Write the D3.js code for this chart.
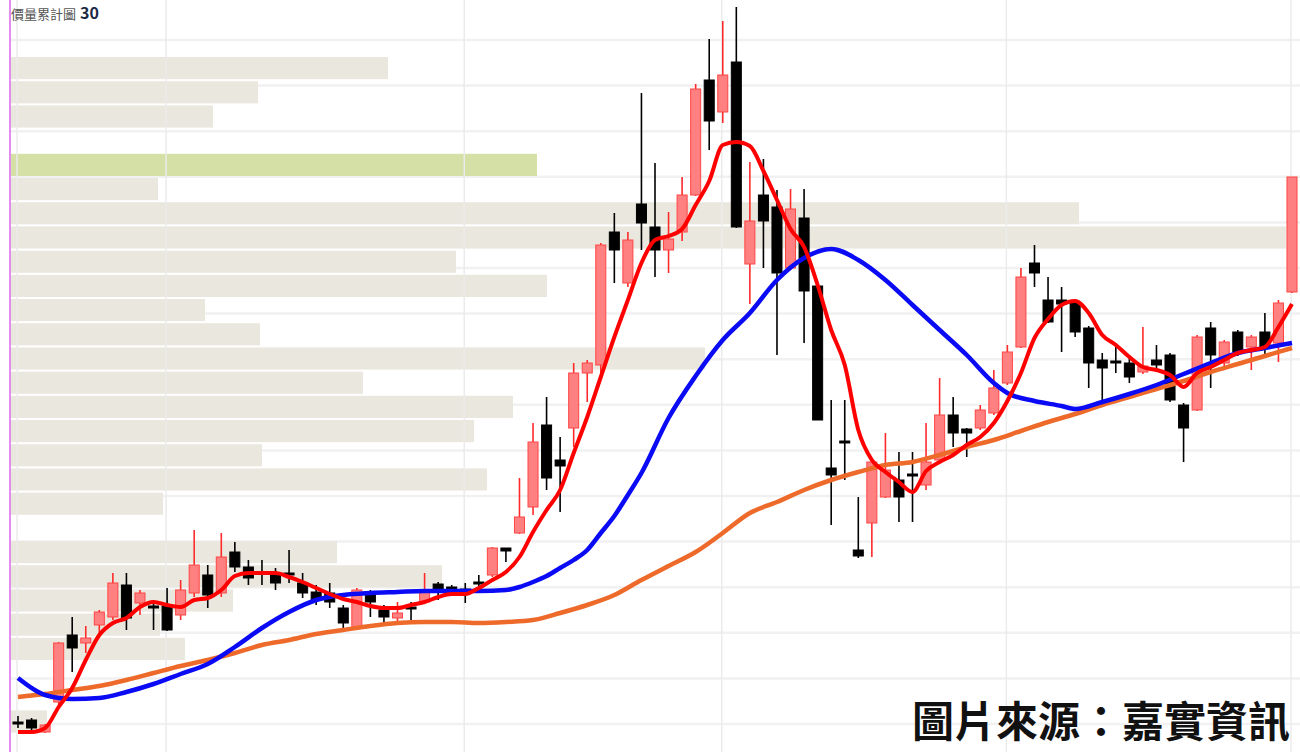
<!DOCTYPE html>
<html>
<head>
<meta charset="utf-8">
<script src="https://cdn.jsdelivr.net/npm/d3@7/dist/d3.min.js"></script>
<style>
    html, body { margin: 0; padding: 0; background: #fff; overflow: hidden; }
    svg { display: block; }
</style>
</head>
<body>
<svg id="vis-svg" width="1300" height="752"></svg>
<script>
// daily candles, price units
let opens  = [38,40,28,58,125,117,135,143,175,157,154,154,145,167,185,167,208,193,188,185,187,177,168,167,152,133,167,150,142,153,158,176,173,171,178,185,212,227,253,335,300,332,387,395,528,477,556,533,510,528,565,680,648,698,496,565,553,492,542,474,292,319,210,237,263,280,286,275,300,345,331,332,347,377,413,497,460,460,458,432,400,399,397,388,400,405,355,350,432,397,428,413,428,417,468];
let highs  = [44,42,36,118,143,134,150,187,187,170,160,172,180,230,195,227,218,200,200,192,210,187,175,177,155,172,170,155,158,158,187,178,175,177,185,213,212,282,337,363,323,397,400,517,547,528,667,597,548,583,676,721,739,753,598,601,570,571,571,474,360,360,263,300,327,308,308,337,382,363,332,355,390,415,492,515,483,473,460,434,407,417,405,433,415,407,357,425,438,420,430,425,447,460,583];
let lows   = [32,30,27,55,88,107,125,140,130,145,130,129,140,163,152,163,188,175,175,170,177,162,155,152,130,132,143,135,138,140,157,160,165,157,170,183,198,226,245,270,248,313,358,387,477,473,510,483,487,519,564,610,637,532,456,492,405,490,417,340,235,280,202,203,262,238,238,270,298,313,303,330,345,375,412,473,437,408,423,372,360,387,377,386,390,358,298,349,372,393,404,390,405,398,467];
let closes = [36,32,35,117,112,122,148,177,142,167,152,130,170,195,165,203,193,182,186,177,185,167,160,158,137,170,158,143,147,151,170,168,168,169,176,212,209,243,318,282,294,387,397,515,510,520,537,510,521,565,671,639,685,533,539,539,487,551,469,340,285,317,204,298,290,263,284,298,345,327,327,350,372,408,483,487,438,456,428,397,392,397,383,394,395,360,332,423,405,418,408,423,413,457,583];

// short moving average, one value per candle
let ma5 = [28,28,32,53,72,100,125,137,142,153,158,155,153,160,162,170,184,187,187,187,183,178,172,166,161,158,154,152,152,155,158,163,166,166,172,180,188,203,228,250,270,307,343,383,423,460,497,520,524,531,555,579,615,618,614,589,560,531,513,475,430,395,330,300,288,278,268,289,298,305,315,323,337,359,387,422,441,455,459,447,425,415,403,393,390,385,373,387,393,400,407,410,413,433,456];

// mid and long averages, read at these candle numbers
let ma20Days = [0,2,4,6,8,10,12,14,16,18,20,22,24,26,28,30,32,34,36,37,38,39,40,41,42,43,44,45,46,48,50,52,54,56,58,60,62,64,66,68,70,72,73,75,77,78,80,82,84,86,88,90,92,94];
let ma20 = [82,65,61,62,68,76,86,96,113,132,148,160,165,167,168,169,169,169,170,173,178,184,192,200,210,227,244,265,287,342,384,420,447,480,502,511,500,480,455,430,405,377,367,359,354,351,358,366,375,386,397,407,412,417];
let ma60Days = [0,2,4,6,8,10,12,14,16,18,20,22,24,26,28,30,32,34,36,38,40,42,44,46,48,50,52,54,56,58,60,62,64,66,68,70,72,74,76,78,80,82,84,86,88,90,92,94];
let ma60 = [63,66,70,74,80,87,94,100,107,115,120,126,130,134,137,138,138,137,138,140,147,155,165,180,194,208,227,247,258,270,280,288,295,298,305,313,320,329,338,346,355,363,371,379,388,396,404,412];

// accumulated volume by price bin, top bin first
let profileTop = 703, profileStep = 24.2;
let profileVol = [378,248,203,0,527,148,1069,1276,446,537,195,250,695,353,503,464,252,477,153,0,327,432,223,150,175,0,0,37];

let monthStarts = [0, 11, 33, 52, 73, 94];
let gridPrices = d3.range(720, 30, -45.6);

let titleText = '價量累計圖';
let titleDays = '30';
let sourceText = '圖片來源：嘉實資訊';

window.onload = () => make_chart();

function make_chart() {
    const svg = d3.select('#vis-svg');
    const width = 1300, height = 752;

    let x = d3.scaleLinear()
        .domain([0, closes.length - 1])
        .range([18, 1292]);
    let y = d3.scaleLinear()
        .domain([0, 760])
        .range([760, 0]);
    let vx = d3.scaleLinear()
        .domain([0, 1276])
        .range([10, 1286]);

    // horizontal grid
    svg.append('g')
        .selectAll('line')
        .data(gridPrices)
        .enter()
        .append('line')
        .attr('x1', 10).attr('x2', width)
        .attr('y1', d => y(d)).attr('y2', d => y(d))
        .attr('stroke', '#f1f1f1')
        .attr('stroke-width', 2.5);

    // volume profile
    let lastClose = closes[closes.length - 1];
    svg.append('g')
        .selectAll('rect')
        .data(profileVol)
        .enter()
        .append('rect')
        .attr('x', vx(0))
        .attr('y', (d, i) => y(profileTop - profileStep * i))
        .attr('width', d => vx(d) - vx(0))
        .attr('height', profileStep - 2)
        .attr('fill', (d, i) => {
            let hi = profileTop - profileStep * i;
            return (lastClose <= hi && lastClose > hi - profileStep) ? '#d5e0a6' : '#eae8de';
        });

    // month separators
    svg.append('g')
        .selectAll('line')
        .data(monthStarts)
        .enter()
        .append('line')
        .attr('x1', d => x(d) - 1).attr('x2', d => x(d) - 1)
        .attr('y1', 0).attr('y2', height)
        .attr('stroke', '#ebebeb')
        .attr('stroke-width', 1.5);

    // left border
    svg.append('line')
        .attr('x1', 10).attr('x2', 10)
        .attr('y1', 0).attr('y2', height)
        .attr('stroke', '#e38cf0')
        .attr('stroke-width', 2);

    let bw = (x(1) - x(0)) * 0.74;
    let candles = closes.map((c, i) => ({i: i, o: opens[i], h: highs[i], l: lows[i], c: c}));
    let up = d => d.c > d.o;

    let g = svg.append('g');
    g.selectAll('.wick')
        .data(candles)
        .enter()
        .append('line')
        .attr('class', 'wick')
        .attr('x1', d => x(d.i)).attr('x2', d => x(d.i))
        .attr('y1', d => y(d.h)).attr('y2', d => y(d.l))
        .attr('stroke', d => up(d) ? '#ff2b2b' : '#000')
        .attr('stroke-width', 1.6);

    g.selectAll('.body')
        .data(candles)
        .enter()
        .append('rect')
        .attr('class', 'body')
        .attr('x', d => x(d.i) - bw / 2)
        .attr('y', d => y(Math.max(d.o, d.c)))
        .attr('width', bw)
        .attr('height', d => Math.max(2, Math.abs(y(d.o) - y(d.c))))
        .attr('fill', d => up(d) ? '#ff8080' : '#000')
        .attr('stroke', d => up(d) ? '#ff4545' : '#000')
        .attr('stroke-width', 1);

    // averages: long, mid, short
    let line60 = d3.line()
        .x((d, i) => x(ma60Days[i]))
        .y(d => y(d))
        .curve(d3.curveMonotoneX);
    svg.append('path')
        .attr('d', line60(ma60))
        .attr('fill', 'none')
        .attr('stroke', '#ee6a2a')
        .attr('stroke-width', 4.5);

    let line20 = d3.line()
        .x((d, i) => x(ma20Days[i]))
        .y(d => y(d))
        .curve(d3.curveMonotoneX);
    svg.append('path')
        .attr('d', line20(ma20))
        .attr('fill', 'none')
        .attr('stroke', '#0a0af5')
        .attr('stroke-width', 4.5);

    let line5 = d3.line()
        .x((d, i) => x(i))
        .y(d => y(d))
        .curve(d3.curveMonotoneX);
    svg.append('path')
        .attr('d', line5(ma5))
        .attr('fill', 'none')
        .attr('stroke', '#ff0000')
        .attr('stroke-width', 4);

    // title in the top-left corner
    let t = svg.append('text')
        .attr('x', 11)
        .attr('y', 19)
        .attr('font-family', '"Noto Sans CJK TC", sans-serif');
    t.append('tspan')
        .attr('font-size', 13)
        .attr('fill', '#555')
        .text(titleText);
    t.append('tspan')
        .attr('dx', 4)
        .attr('font-size', 16)
        .attr('font-weight', 'bold')
        .attr('fill', '#1c2846')
        .text(titleDays);

    svg.append('text')
        .attr('x', 912)
        .attr('y', 737)
        .attr('font-family', '"Noto Sans CJK TC", sans-serif')
        .attr('font-size', 42)
        .attr('font-weight', 'bold')
        .attr('fill', '#111')
        .text(sourceText);
}
</script>
</body>
</html>
